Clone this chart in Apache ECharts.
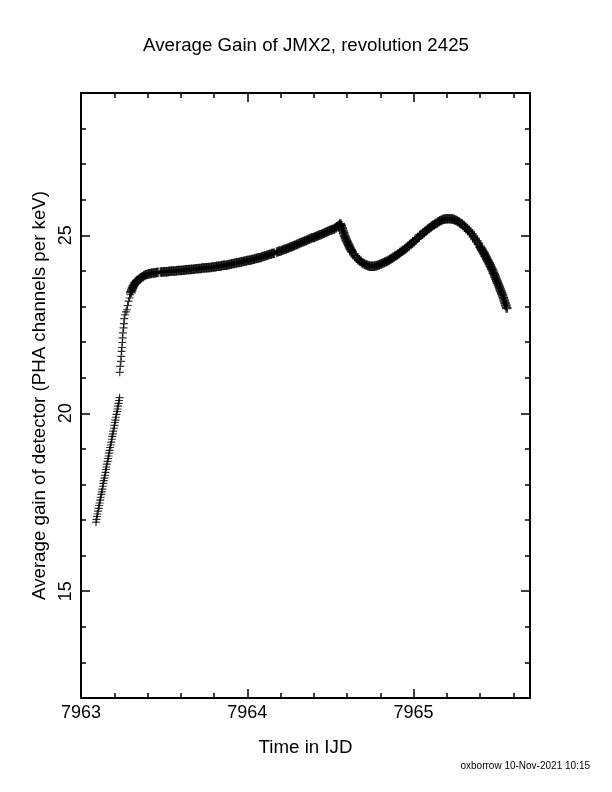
<!DOCTYPE html>
<html>
<head>
<meta charset="utf-8">
<script src="https://cdn.jsdelivr.net/npm/echarts@6/dist/echarts.min.js"></script>
<style>
  html, body { margin: 0; padding: 0; background: #fff; }
  #chart { width: 612px; height: 792px; }
</style>
</head>
<body>
<div id="chart"></div>
<script>
// axis ticks that carry labels / long ticks
const xMajor = [7963, 7964, 7965];
const yMajor = [15, 20, 25];

// first ramp, before the jump in gain  [time IJD, gain]
const rampA = [
  [7963.090, 16.94], [7963.093, 17.02], [7963.096, 17.10], [7963.099, 17.17],
  [7963.103, 17.25], [7963.106, 17.33], [7963.109, 17.41], [7963.112, 17.48],
  [7963.115, 17.56], [7963.118, 17.64], [7963.122, 17.72], [7963.125, 17.79],
  [7963.128, 17.87], [7963.131, 17.95], [7963.134, 18.03], [7963.137, 18.11],
  [7963.141, 18.18], [7963.144, 18.26], [7963.147, 18.34], [7963.150, 18.42],
  [7963.153, 18.49], [7963.156, 18.57], [7963.160, 18.65], [7963.163, 18.73],
  [7963.166, 18.80], [7963.169, 18.88], [7963.172, 18.96], [7963.175, 19.04],
  [7963.179, 19.11], [7963.182, 19.19], [7963.185, 19.27], [7963.188, 19.35],
  [7963.191, 19.42], [7963.194, 19.50], [7963.198, 19.58], [7963.201, 19.66],
  [7963.204, 19.74], [7963.207, 19.81], [7963.210, 19.89], [7963.213, 19.97],
  [7963.217, 20.05], [7963.220, 20.12], [7963.223, 20.20], [7963.226, 20.28],
  [7963.229, 20.36], [7963.232, 20.44]
];

// second ramp, after the jump
const rampB = [
  [7963.233, 21.15], [7963.236, 21.32], [7963.240, 21.46], [7963.242, 21.60],
  [7963.244, 21.74], [7963.246, 21.85], [7963.248, 21.99], [7963.250, 22.12],
  [7963.252, 22.26], [7963.256, 22.40], [7963.258, 22.52], [7963.260, 22.66],
  [7963.264, 22.77], [7963.270, 22.85], [7963.276, 22.91], [7963.280, 23.03],
  [7963.286, 23.15], [7963.292, 23.24], [7963.296, 23.33]
];

// knee and slow rise up to the peak near 7964.56
const rise = [
  [7963.300, 23.40], [7963.305, 23.46], [7963.310, 23.52], [7963.315, 23.57],
  [7963.320, 23.61], [7963.325, 23.65], [7963.330, 23.68], [7963.335, 23.71],
  [7963.340, 23.73], [7963.35, 23.77], [7963.36, 23.81], [7963.37, 23.84],
  [7963.38, 23.87], [7963.39, 23.89], [7963.40, 23.91], [7963.41, 23.92],
  [7963.42, 23.93], [7963.43, 23.94], [7963.44, 23.94], [7963.45, 23.95],
  [7963.46, 23.96],
  [7963.48, 23.97], [7963.49, 23.97], [7963.50, 23.98], [7963.51, 23.98],
  [7963.52, 23.98], [7963.53, 23.99], [7963.54, 23.99], [7963.55, 24.00],
  [7963.56, 24.00], [7963.57, 24.00], [7963.58, 24.01], [7963.59, 24.01],
  [7963.60, 24.01], [7963.61, 24.02], [7963.62, 24.02], [7963.63, 24.03],
  [7963.64, 24.03], [7963.65, 24.04], [7963.66, 24.04], [7963.67, 24.05],
  [7963.68, 24.05], [7963.69, 24.06], [7963.70, 24.06], [7963.71, 24.07],
  [7963.72, 24.07], [7963.73, 24.08], [7963.74, 24.08], [7963.75, 24.09],
  [7963.76, 24.09], [7963.77, 24.10], [7963.78, 24.10], [7963.79, 24.11],
  [7963.80, 24.11], [7963.81, 24.12], [7963.82, 24.13], [7963.83, 24.13],
  [7963.84, 24.14], [7963.85, 24.15], [7963.86, 24.16], [7963.87, 24.16],
  [7963.88, 24.17], [7963.89, 24.18], [7963.90, 24.19], [7963.91, 24.20],
  [7963.92, 24.21], [7963.93, 24.22], [7963.94, 24.23], [7963.95, 24.24],
  [7963.96, 24.25], [7963.97, 24.26], [7963.98, 24.27], [7963.99, 24.28],
  [7964.00, 24.29], [7964.01, 24.30], [7964.02, 24.31], [7964.03, 24.32],
  [7964.04, 24.33], [7964.05, 24.35], [7964.06, 24.36], [7964.07, 24.37],
  [7964.08, 24.38], [7964.09, 24.40], [7964.10, 24.41], [7964.11, 24.43],
  [7964.12, 24.44], [7964.13, 24.46], [7964.14, 24.47], [7964.15, 24.49],
  [7964.16, 24.50],
  [7964.18, 24.53], [7964.19, 24.55], [7964.20, 24.56], [7964.21, 24.58],
  [7964.22, 24.60], [7964.23, 24.62], [7964.24, 24.63], [7964.25, 24.65],
  [7964.26, 24.67], [7964.27, 24.69], [7964.28, 24.71], [7964.29, 24.73],
  [7964.30, 24.75], [7964.31, 24.77], [7964.32, 24.79], [7964.33, 24.81],
  [7964.34, 24.83], [7964.35, 24.85], [7964.36, 24.87], [7964.37, 24.89],
  [7964.38, 24.91], [7964.39, 24.93], [7964.40, 24.94], [7964.41, 24.96],
  [7964.42, 24.98], [7964.43, 25.00], [7964.44, 25.02], [7964.45, 25.04],
  [7964.46, 25.06], [7964.47, 25.08], [7964.48, 25.10], [7964.49, 25.12],
  [7964.50, 25.14], [7964.51, 25.16], [7964.52, 25.18], [7964.53, 25.21],
  [7964.54, 25.24], [7964.55, 25.27], [7964.555, 25.29], [7964.560, 25.32]
];

// dip after the peak, second maximum and final fall
const wave = [
  [7964.565, 25.27], [7964.570, 25.20], [7964.575, 25.13], [7964.580, 25.06],
  [7964.585, 24.99], [7964.590, 24.93], [7964.595, 24.87], [7964.600, 24.82],
  [7964.605, 24.77], [7964.610, 24.72], [7964.615, 24.67], [7964.620, 24.62],
  [7964.625, 24.58], [7964.630, 24.54], [7964.64, 24.47], [7964.65, 24.41],
  [7964.66, 24.36], [7964.67, 24.31], [7964.68, 24.27], [7964.69, 24.23],
  [7964.70, 24.20], [7964.71, 24.18], [7964.72, 24.16], [7964.73, 24.14],
  [7964.74, 24.13], [7964.75, 24.13], [7964.76, 24.13], [7964.77, 24.14],
  [7964.78, 24.15], [7964.79, 24.17], [7964.80, 24.19], [7964.81, 24.21],
  [7964.82, 24.23], [7964.83, 24.25], [7964.84, 24.27], [7964.85, 24.30],
  [7964.86, 24.33], [7964.87, 24.36], [7964.88, 24.39], [7964.89, 24.42],
  [7964.90, 24.45], [7964.91, 24.48], [7964.92, 24.52], [7964.93, 24.55],
  [7964.94, 24.59], [7964.95, 24.62], [7964.96, 24.66], [7964.97, 24.70],
  [7964.98, 24.74], [7964.99, 24.78], [7965.00, 24.82], [7965.01, 24.86],
  [7965.02, 24.91], [7965.03, 24.95], [7965.04, 25.00], [7965.05, 25.03],
  [7965.06, 25.07], [7965.07, 25.11], [7965.08, 25.15], [7965.09, 25.19],
  [7965.10, 25.22], [7965.11, 25.26], [7965.12, 25.29], [7965.13, 25.32],
  [7965.14, 25.35], [7965.15, 25.38], [7965.16, 25.41], [7965.17, 25.43],
  [7965.18, 25.45], [7965.19, 25.46], [7965.20, 25.47], [7965.21, 25.47],
  [7965.22, 25.47], [7965.23, 25.46], [7965.24, 25.45], [7965.25, 25.43],
  [7965.26, 25.41], [7965.27, 25.38], [7965.28, 25.35], [7965.29, 25.32],
  [7965.30, 25.28], [7965.31, 25.23], [7965.32, 25.19], [7965.33, 25.14],
  [7965.34, 25.09], [7965.35, 25.03], [7965.36, 24.97], [7965.37, 24.90],
  [7965.38, 24.83], [7965.39, 24.76], [7965.400, 24.68], [7965.405, 24.64],
  [7965.410, 24.60], [7965.415, 24.56], [7965.420, 24.52], [7965.425, 24.48],
  [7965.430, 24.43], [7965.435, 24.39], [7965.440, 24.34], [7965.445, 24.30],
  [7965.450, 24.25], [7965.455, 24.21], [7965.460, 24.16], [7965.465, 24.11],
  [7965.470, 24.06], [7965.475, 24.01], [7965.480, 23.95], [7965.485, 23.90],
  [7965.490, 23.84], [7965.495, 23.78], [7965.500, 23.72], [7965.505, 23.67],
  [7965.510, 23.61], [7965.515, 23.55], [7965.520, 23.49], [7965.525, 23.43],
  [7965.530, 23.37], [7965.535, 23.31], [7965.540, 23.24], [7965.545, 23.17],
  [7965.550, 23.10], [7965.555, 23.03], [7965.560, 22.96]
];

const FONT = '"Liberation Sans", Helvetica, Arial, sans-serif';
// "+" markers: thin arms for the sparse ramps, heavier where the samples pile up
const PLUS = 'path://M6,0H8V6H14V8H8V14H6V8H0V6H6Z';
const PLUS_BOLD = 'path://M5.1,0H8.9V5.1H14V8.9H8.9V14H5.1V8.9H0V5.1H5.1Z';

const line = { show: true, lineStyle: { color: '#000', width: 2 } };
const noLine = { show: false };

const xBase = { type: 'value', min: 7963, max: 7965.7, splitLine: { show: false } };
const yBase = { type: 'value', min: 12, max: 29, splitLine: { show: false } };

const minorTick = { show: true, inside: true, length: 5, lineStyle: { color: '#000', width: 1.5 } };
const majorTick = (values) => ({
  show: true, inside: true, length: 9, customValues: values,
  lineStyle: { color: '#000', width: 1.5 }
});

const chart = echarts.init(document.getElementById('chart'), null, { renderer: 'canvas' });

chart.setOption({
  animation: false,
  backgroundColor: '#fff',
  textStyle: { fontFamily: FONT, color: '#000' },
  title: {
    text: 'Average Gain of JMX2, revolution 2425',
    left: 'center',
    top: 31,
    textStyle: { fontFamily: FONT, fontSize: 18.7, fontWeight: 'normal', color: '#000' }
  },
  grid: { left: 81, right: 82, top: 93, bottom: 94, containLabel: false },
  xAxis: [
    Object.assign({}, xBase, {
      position: 'bottom', interval: 0.2,
      axisLine: line, axisTick: minorTick,
      axisLabel: {
        customValues: xMajor, margin: 6, formatter: (v) => String(v),
        fontFamily: FONT, fontSize: 18, color: '#000'
      },
      name: 'Time in IJD', nameLocation: 'middle', nameGap: 40,
      nameTextStyle: { fontFamily: FONT, fontSize: 18.7, color: '#000' }
    }),
    Object.assign({}, xBase, {
      position: 'bottom', axisLine: noLine, axisTick: majorTick(xMajor),
      axisLabel: { show: false }
    }),
    Object.assign({}, xBase, {
      position: 'top', interval: 0.2,
      axisLine: line, axisTick: minorTick, axisLabel: { show: false }
    }),
    Object.assign({}, xBase, {
      position: 'top', axisLine: noLine, axisTick: majorTick(xMajor),
      axisLabel: { show: false }
    })
  ],
  yAxis: [
    Object.assign({}, yBase, {
      position: 'left', interval: 1,
      axisLine: line, axisTick: minorTick,
      axisLabel: {
        customValues: yMajor, rotate: 90, margin: 6, formatter: (v) => String(v),
        fontFamily: FONT, fontSize: 18, color: '#000'
      },
      name: 'Average gain of detector (PHA channels per keV)',
      nameLocation: 'middle', nameRotate: 90, nameGap: 27,
      nameTextStyle: { fontFamily: FONT, fontSize: 18.7, color: '#000' }
    }),
    Object.assign({}, yBase, {
      position: 'left', axisLine: noLine, axisTick: majorTick(yMajor),
      axisLabel: { show: false }
    }),
    Object.assign({}, yBase, {
      position: 'right', interval: 1,
      axisLine: line, axisTick: minorTick, axisLabel: { show: false }
    }),
    Object.assign({}, yBase, {
      position: 'right', axisLine: noLine, axisTick: majorTick(yMajor),
      axisLabel: { show: false }
    })
  ],
  graphic: [{
    type: 'text',
    right: 22,
    top: 761,
    style: {
      text: 'oxborrow 10-Nov-2021 10:15',
      font: '10px ' + FONT,
      fill: '#000'
    }
  }],
  series: [
    { name: 'rampA', data: rampA, symbol: PLUS, symbolSize: 8 },
    { name: 'rampB', data: rampB, symbol: PLUS, symbolSize: 8 },
    { name: 'rise', data: rise, symbol: PLUS_BOLD, symbolSize: 9.5 },
    { name: 'wave', data: wave, symbol: PLUS_BOLD, symbolSize: 9.5 }
  ].map((s) => Object.assign({
    type: 'scatter',
    xAxisIndex: 0,
    yAxisIndex: 0,
    itemStyle: { color: '#000' },
    silent: true
  }, s))
});
</script>
</body>
</html>
